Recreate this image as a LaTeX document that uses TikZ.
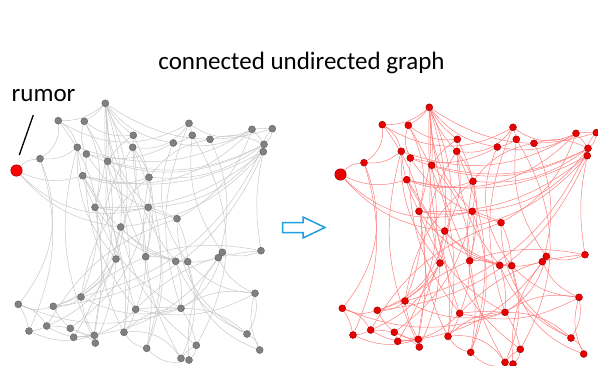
\documentclass[tikz,border=0pt]{standalone}
\usepackage{fontspec}
\setmainfont{Carlito}
\usetikzlibrary{backgrounds}
\definecolor{edgegray}{RGB}{200,200,200}
\definecolor{nodegray}{RGB}{128,128,128}
\definecolor{rimgray}{RGB}{95,95,95}
\definecolor{edgered}{RGB}{255,125,125}
\definecolor{nodered}{RGB}{235,0,0}
\definecolor{rimred}{RGB}{150,0,0}
\definecolor{arrowblue}{RGB}{30,160,225}

\def\graphnodes{2/105.3/103.3, 3/58.3/120.7, 4/84.3/121.3, 5/189/123.3,
  6/252/129.3, 7/272.3/128.7, 8/133.3/135.3, 9/192.3/135.3, 10/210/139.3,
  11/173.3/143, 12/264/144.3, 13/77.3/147.3, 14/132.7/147.3, 15/263.3/151.7,
  16/86.3/154, 17/40/158.7, 18/107.7/161.3, 19/82.7/175.7, 20/149/177.3,
  21/95/207.3, 22/148.3/207.3, 23/177/218.7, 24/120.7/227, 25/261/250.7,
  26/222.3/252.3, 27/218.3/257.7, 28/145.7/256.7, 29/116/259, 30/175.7/261.3,
  31/187.7/261.7, 32/255/293.3, 33/81/297, 34/18.3/304.3, 35/53.3/306.3,
  36/135.7/309.3, 37/181/308.3, 38/46.7/326, 39/70.3/328.3, 40/29/331,
  41/124/332.3, 42/94.3/335.3, 43/73.7/337.3, 44/247/334, 45/95.3/343,
  46/196.3/345.3, 47/146.7/348.3, 48/259.7/350, 49/181/358.3, 50/189/360}

\def\graphedges{1/17/20, 1/19/-20, 1/22/-30, 1/24/-20,
  2/3/20, 2/4/10, 2/8/-10, 2/14/-10, 2/18/5, 2/21/10, 2/22/-20, 2/24/10, 2/29/20,
  2/28/-10, 2/7/-25, 2/11/-20, 2/36/-10,
  3/13/20, 3/17/30, 3/33/30, 3/5/-30,
  4/16/-20, 4/8/-20, 4/21/20, 4/41/20,
  5/9/5, 5/6/-30, 5/14/30, 5/37/-20,
  6/7/5, 6/12/5, 6/13/25, 6/19/30, 6/11/20, 6/23/20,
  7/12/20, 7/15/-20,
  8/18/-10, 8/28/20, 8/30/-20,
  9/11/10, 9/26/-20, 9/46/30,
  10/12/20, 10/20/-20, 10/27/20,
  11/16/20, 11/31/-30,
  12/16/25, 12/18/20, 12/20/20, 12/22/25, 12/33/25,
  13/21/-10, 13/29/-20, 13/45/-20,
  14/20/10, 14/24/20, 14/41/-30, 14/47/20,
  15/19/20, 15/24/20, 15/25/-10, 15/35/30, 15/21/20,
  16/23/-20, 16/36/-20,
  17/34/30, 17/40/20, 17/13/-20,
  18/28/20, 18/43/20, 18/29/-10,
  19/20/-20, 19/30/-20, 19/41/20,
  20/22/10, 20/33/-20, 20/49/-20,
  21/30/-20, 21/42/10, 21/37/-20, 21/22/-10,
  22/23/5, 22/39/20, 22/47/20, 22/28/10,
  23/31/10, 23/38/-20, 23/44/-30,
  24/29/-10, 24/35/30, 24/46/-20, 24/31/-20,
  25/26/20, 25/36/-20, 25/33/-25,
  26/27/5, 26/37/20, 26/43/25,
  27/32/-20, 27/30/10, 27/50/-20,
  28/30/10, 28/36/10, 28/47/10,
  29/42/-10, 29/38/20, 29/45/10,
  30/31/5, 30/37/10, 30/44/-20,
  31/32/-20, 31/49/20, 31/48/-30,
  32/44/20, 32/48/-20, 32/36/20, 32/37/-20,
  33/35/20, 33/37/-20, 33/42/-10,
  34/38/20, 34/40/10, 34/37/-20, 34/35/-20,
  35/39/-10, 35/29/-20,
  36/37/5, 36/41/10, 36/43/20,
  37/41/-20, 37/44/20, 37/46/10,
  38/39/5, 38/40/10, 38/42/-20,
  39/42/-10, 39/43/5, 39/45/10,
  40/42/-20, 41/49/30, 41/47/-20, 42/45/5,
  44/48/20, 46/50/20, 46/49/-10, 47/50/-30}

\newcommand{\drawgraph}[1]{%
  \foreach \n/\x/\y in \graphnodes {\node[smallnode] (#1\n) at (\x,\y) {};}
  \node[rumornode] (#11) at (16.5,170.5) {};
  \begin{scope}[on background layer]
    \foreach \a/\b/\c in \graphedges {\draw[graphedge] (#1\a) to[bend left=\c] (#1\b);}
  \end{scope}
}

\begin{document}
\begin{tikzpicture}[x=1pt,y=-1pt,
    labeltext/.style={font=\fontsize{25}{30}\selectfont, inner sep=0pt}]
  \useasboundingbox (0,0) rectangle (598,365);
  \node[labeltext, anchor=base] (title) at (301.5,69.3) {connected undirected graph};
  \node[labeltext, anchor=base west] (rumorlabel) at (11.5,101.7) {rumor};
  \coordinate (ticktop) at (33.3,115);
  \coordinate (tickbot) at (19.3,155);
  \draw[line width=1.3pt] (ticktop) -- (tickbot);
  \begin{scope}[smallnode/.style={circle, inner sep=0pt, minimum size=7pt,
        fill=nodegray, draw=rimgray, line width=0.4pt},
      rumornode/.style={circle, inner sep=0pt, minimum size=11.5pt, fill=red,
        draw=rimred, line width=0.4pt},
      graphedge/.style={edgegray, line width=0.5pt}]
    \drawgraph{L}
  \end{scope}
  \draw[arrowblue, line width=1.5pt, line join=miter]
    (282.5,222.5) -- (303,222.5) -- (303,217) -- (325,227.5) -- (303,238)
    -- (303,232.5) -- (282.5,232.5) -- cycle;
  \begin{scope}[shift={(324,4)},
      smallnode/.style={circle, inner sep=0pt, minimum size=7pt,
        fill=nodered, draw=rimred, line width=0.4pt},
      rumornode/.style={circle, inner sep=0pt, minimum size=11.5pt,
        fill=nodered, draw=rimred, line width=0.4pt},
      graphedge/.style={edgered, line width=0.5pt}]
    \drawgraph{R}
  \end{scope}
\end{tikzpicture}
\end{document}
